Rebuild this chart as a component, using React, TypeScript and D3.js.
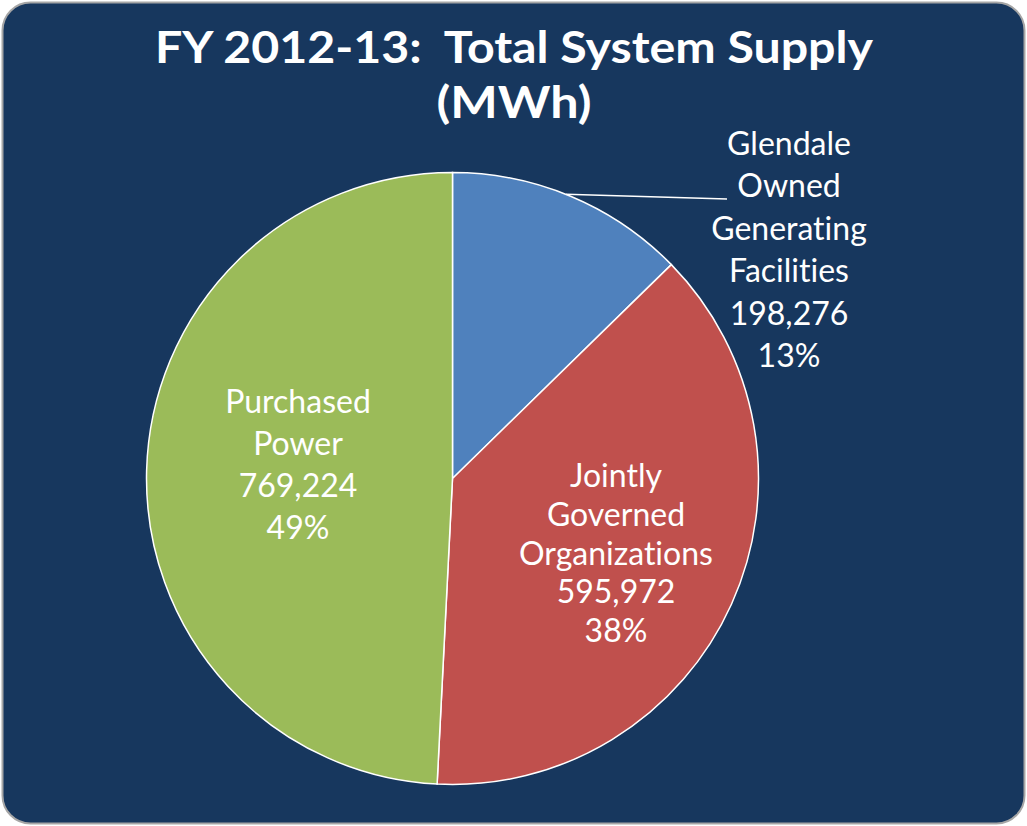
import React from "react";
import * as d3 from "d3";

const categories = ["Glendale Owned Generating Facilities", "Jointly Governed Organizations", "Purchased Power"];
const labelLines = [
  ["Glendale", "Owned", "Generating", "Facilities"],
  ["Jointly", "Governed", "Organizations"],
  ["Purchased", "Power"],
];
const values = [198276, 595972, 769224];
const colors = ["#4F81BD", "#C0504D", "#9BBB59"];
const titleLines = ["FY 2012-13:\u00A0 Total System Supply", "(MWh)"];

const W = 1027;
const H = 826;
const FONT = "'Gill Sans', 'Gill Sans MT', Lato, 'Open Sans', sans-serif";

export default function App() {
  const cx = 452.5;
  const cy = 478.5;
  const r = 306;
  const total = d3.sum(values);
  const pie = d3.pie<number>().sort(null).value((d) => d);
  const arcs = pie(values);
  const arc = d3.arc<d3.PieArcDatum<number>>().innerRadius(0).outerRadius(r);
  const fmt = d3.format(",");
  const pct = (v: number) => `${Math.round((v / total) * 100)}%`;

  // label layout: [x, first baseline, line spacing]
  const labelPos: [number, number, number][] = [
    [789, 155, 42.4],
    [616, 487, 38.8],
    [298, 413, 42],
  ];
  const titleWidths = [718, 155];

  // leader line for the first slice
  const leaderAngle = 0.38;
  const lx0 = cx + r * Math.sin(leaderAngle);
  const ly0 = cy - r * Math.cos(leaderAngle);

  return (
    <div style={{ position: "absolute", left: 0, top: 0, width: W, height: H }}>
      <svg width={W} height={H} style={{ display: "block" }}>
        <rect x={2.5} y={2.5} width={W - 5} height={H - 5} rx={28} ry={28} fill="#17375E" stroke="#A6A6A6" strokeWidth={2} />
        {titleLines.map((t, i) => (
          <text
            key={i}
            x={514}
            y={63 + i * 55}
            textAnchor="middle"
            fill="#FFFFFF"
            fontFamily={FONT}
            fontWeight="bold"
            fontSize={43}
            textLength={titleWidths[i]}
            lengthAdjust="spacingAndGlyphs"
          >
            {t}
          </text>
        ))}
        <g transform={`translate(${cx},${cy})`}>
          {arcs.map((a, i) => (
            <path key={categories[i]} d={arc(a) || ""} fill={colors[i]} stroke="#FFFFFF" strokeWidth={1.5} />
          ))}
        </g>
        <polyline points={`${lx0},${ly0} ${727},${199}`} fill="none" stroke="#FFFFFF" strokeWidth={1.5} />
        {labelLines.map((lines, i) => {
          const [x, y0, dy] = labelPos[i];
          const all = [...lines, fmt(values[i]), pct(values[i])];
          return (
            <text
              key={i}
              textAnchor="middle"
              fill="#FFFFFF"
              fontFamily={FONT}
              fontSize={32}
              style={{ fontVariantLigatures: "none" }}
            >
              {all.map((l, j) => (
                <tspan key={j} x={x} y={y0 + j * dy}>
                  {l}
                </tspan>
              ))}
            </text>
          );
        })}
      </svg>
    </div>
  );
}
